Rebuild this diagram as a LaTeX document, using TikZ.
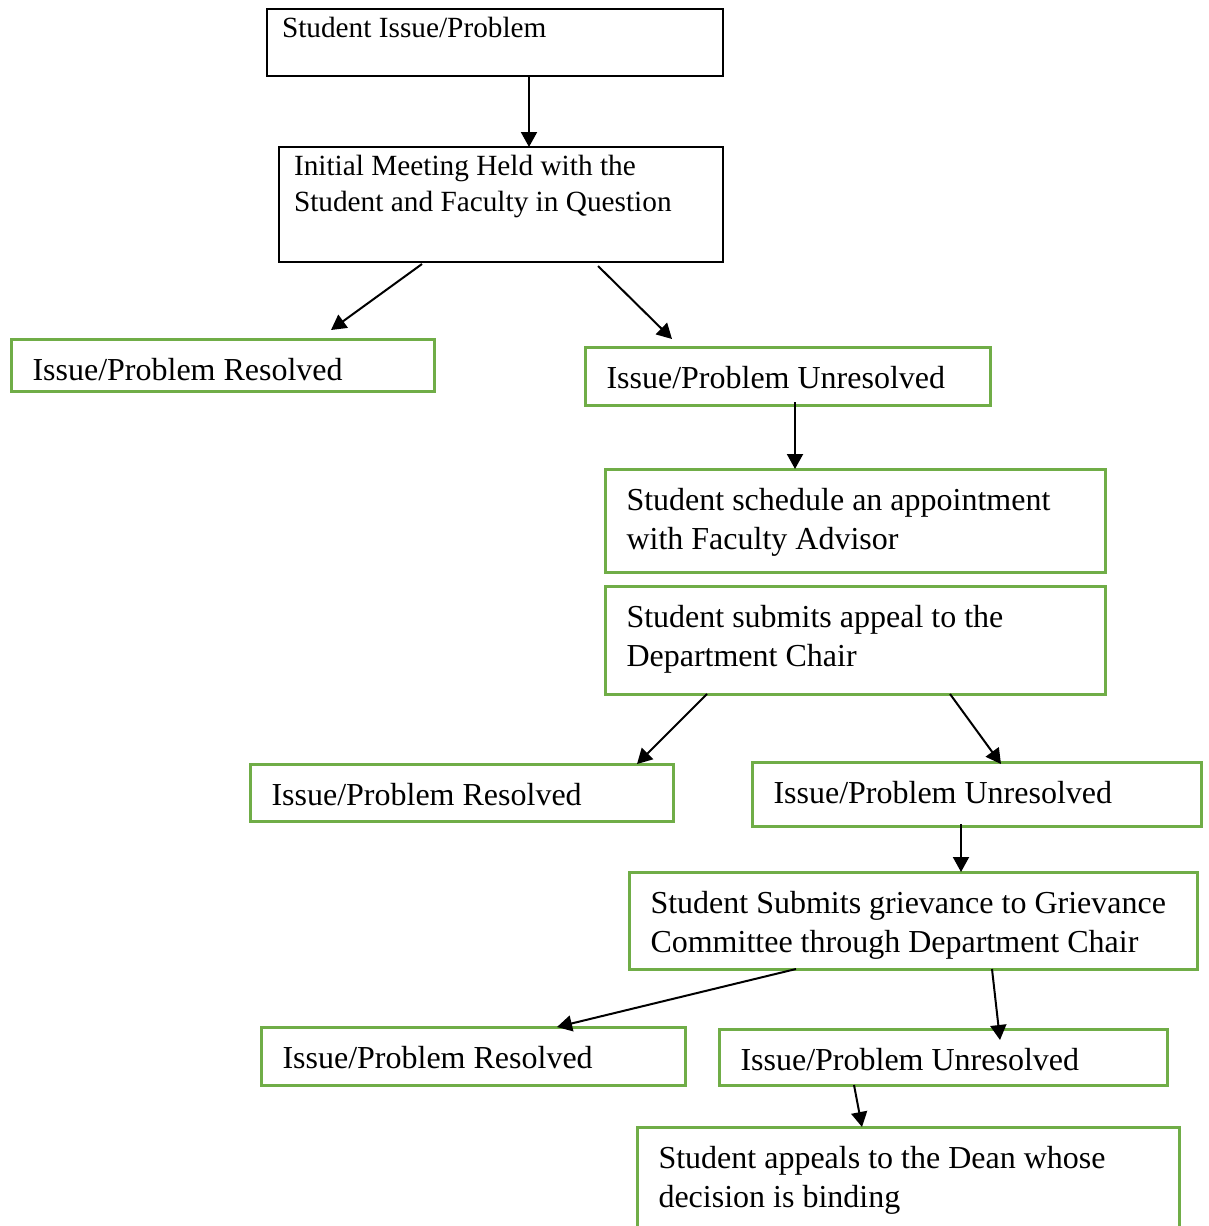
\documentclass[tikz,border=0pt]{standalone}
\usepackage{fontspec}
\setmainfont{Liberation Serif}
\usetikzlibrary{arrows.meta}
\definecolor{boxgreen}{RGB}{112,173,71}

\begin{document}
\begin{tikzpicture}[
      x=1pt, y=-1pt,
      blackbox/.style={rectangle, draw, line width=2pt, anchor=north west, align=flush left, inner xsep=15pt, inner ysep=0pt, outer sep=0pt, text height=28pt, font=\fontsize{29.3}{36}\selectfont},
      greenbox/.style={rectangle, draw=boxgreen, line width=3pt, anchor=north west, align=flush left, inner xsep=21.5pt, inner ysep=0pt, outer sep=0pt, text height=41.5pt, font=\fontsize{32}{39}\selectfont},
      arrow/.style={line width=2pt, -{Triangle[length=15pt, width=16pt]}}
   ]
   \useasboundingbox (0,0) rectangle (1208,1226);
   \clip (0,0) rectangle (1208,1226);

   % Nodes
   \node (issue) [blackbox, text width=426pt, text depth=39pt] at (267,9) {Student Issue/Problem};
   \node (meeting) [blackbox, text width=414pt, text depth=87pt] at (279,147) {Initial Meeting Held with the\\Student and Faculty in Question};

   \node (resolvedA) [greenbox, text width=380pt, text depth=10.5pt] at (11,339) {Issue/Problem Resolved};
   \node (unresolvedA) [greenbox, text width=362pt, text depth=16.5pt] at (585,347) {Issue/Problem Unresolved};
   \node (advisor) [greenbox, text width=457pt, text depth=61.5pt] at (605,469) {Student schedule an appointment\\with Faculty Advisor};
   \node (appeal) [greenbox, text width=457pt, text depth=66.5pt] at (605,586) {Student submits appeal to the\\Department Chair};

   \node (resolvedB) [greenbox, text width=380pt, text depth=15.5pt] at (250,764) {Issue/Problem Resolved};
   \node (unresolvedB) [greenbox, text width=406pt, text depth=22.5pt] at (752,762) {Issue/Problem Unresolved};
   \node (grievance) [greenbox, text width=525pt, text depth=55.5pt] at (629,872) {\mbox{Student Submits grievance to Grievance}\\Committee through Department Chair};

   \node (resolvedC) [greenbox, text width=381pt, text depth=16.5pt] at (261,1027) {Issue/Problem Resolved};
   \node (unresolvedC) [greenbox, text width=405pt, text depth=14.5pt] at (719,1029) {Issue/Problem Unresolved};
   \node (dean) [greenbox, text width=499pt, text depth=81.5pt] at (637,1127) {Student appeals to the Dean whose\\decision is binding};

   % Arrows
   \draw [arrow] ([xshift=262pt]issue.south west) -- ([xshift=250pt]meeting.north west);
   \draw [arrow] ([xshift=143pt,yshift=-2pt]meeting.south west) -- ([xshift=320pt,yshift=9pt]resolvedA.north west);
   \draw [arrow] ([xshift=319pt,yshift=-4pt]meeting.south west) -- ([xshift=87pt,yshift=8pt]unresolvedA.north west);
   \draw [arrow] ([xshift=210pt,yshift=3pt]unresolvedA.south west) -- ([xshift=190pt]advisor.north west);

   % second round
   \draw [arrow] ([xshift=102pt]appeal.south west) -- ([xshift=387pt]resolvedB.north west);
   \draw [arrow] ([xshift=345pt]appeal.south west) -- ([xshift=249pt,yshift=-2pt]unresolvedB.north west);
   \draw [arrow] ([xshift=209pt,yshift=2pt]unresolvedB.south west) -- ([xshift=332pt]grievance.north west);

   % third round
   \draw [arrow] ([xshift=167pt]grievance.south west) -- ([xshift=296pt]resolvedC.north west);
   \draw [arrow] ([xshift=363pt]grievance.south west) -- ([xshift=281pt,yshift=-11pt]unresolvedC.north west);
   \draw [arrow] ([xshift=135pt]unresolvedC.south west) -- ([xshift=225pt]dean.north west);

\end{tikzpicture}
\end{document}
